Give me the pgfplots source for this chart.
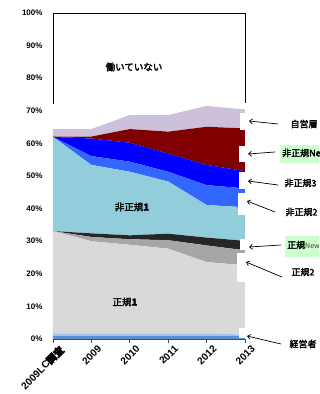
\documentclass[border=0pt]{standalone}
\usepackage{pgfplots}
\pgfplotsset{compat=1.18}
\usepackage{fontspec}
\setmainfont{Liberation Sans}
\newfontfamily\jp[FakeBold=2.5]{Noto Sans CJK JP}
\newfontfamily\jpn{Noto Sans CJK JP}
\usetikzlibrary{arrows.meta}
\definecolor{cA}{HTML}{5B8ED8}
\definecolor{cB}{HTML}{A9C0E8}
\definecolor{cSei1}{HTML}{D9D9D9}
\definecolor{cSei2}{HTML}{A6A6A6}
\definecolor{cSeiN}{HTML}{262626}
\definecolor{cHi1}{HTML}{92CDDC}
\definecolor{cHi2}{HTML}{3366FF}
\definecolor{cHi3}{HTML}{0000FF}
\definecolor{cHiN}{HTML}{800000}
\definecolor{cJi}{HTML}{CCC0DA}
\definecolor{cGreen}{HTML}{CCFFCC}
\begin{document}
\begin{tikzpicture}[x=1pt,y=1pt]
\useasboundingbox (-53,-55) rectangle (266,339);
\begin{axis}[
  scale only axis, width=192pt, height=326pt,
  at={(0,0)}, anchor=south west,
  xmin=0, xmax=5, ymin=0, ymax=100,
  stack plots=y,
  axis line style={draw=none},
  xtick={0,1,2,3,4,5},
  xticklabels={2009LC{\jp 調査},2009,2010,2011,2012,2013},
  x tick label style={rotate=45, anchor=north east, font=\bfseries\fontsize{10}{10}\selectfont, inner sep=1pt, xshift=4pt, yshift=-4pt},
  ytick={0,10,...,100},
  yticklabel={\pgfmathprintnumber{\tick}\%},
  y tick label style={font=\bfseries\fontsize{8}{8}\selectfont, xshift=-3pt},
  /pgf/number format/assume math mode=true,
  ytick style={draw=none},
  xtick style={draw=black!70, line width=0.6pt},
  tick align=outside, xtick pos=bottom, ytick pos=left,
  major tick length=4pt,
]
% 経営者 (two shades)
\addplot[fill=cA, draw=none] coordinates {(0,0.9) (1,0.9) (2,0.9) (3,0.9) (4,0.9) (5,0.9)} \closedcycle;
\addplot[fill=cB, draw=none] coordinates {(0,0.7) (1,0.7) (2,0.7) (3,0.7) (4,0.7) (5,0.5)} \closedcycle;
% 正規1
\addplot[fill=cSei1, draw=none] coordinates {(0,31.5) (1,28.4) (2,27.3) (3,26.1) (4,22.0) (5,21.2)} \closedcycle;
% 正規2
\addplot[fill=cSei2, draw=none] coordinates {(0,0) (1,1.3) (2,1.7) (3,2.6) (4,5.1) (5,4.6)} \closedcycle;
% 正規New
\addplot[fill=cSeiN, draw=none] coordinates {(0,0) (1,1.1) (2,1.2) (3,2.0) (4,2.4) (5,2.9)} \closedcycle;
% 非正規1
\addplot[fill=cHi1, draw=none] coordinates {(0,28.9) (1,21.0) (2,19.5) (3,16.0) (4,10.0) (5,10.3)} \closedcycle;
% 非正規2
\addplot[fill=cHi2, draw=none] coordinates {(0,0) (1,2.7) (2,3.1) (3,3.0) (4,6.1) (5,5.8)} \closedcycle;
% 非正規3
\addplot[fill=cHi3, draw=none] coordinates {(0,0) (1,5.4) (2,5.8) (3,5.6) (4,6.2) (5,5.3)} \closedcycle;
% 非正規New
\addplot[fill=cHiN, draw=none] coordinates {(0,0.1) (1,0.6) (2,4.2) (3,6.7) (4,11.7) (5,13.1)} \closedcycle;
% 自営層
\addplot[fill=cJi, draw=none] coordinates {(0,2.3) (1,2.3) (2,4.3) (3,5.1) (4,6.4) (5,5.8)} \closedcycle;
% 働いていない
\addplot[fill=white, draw=none] coordinates {(0,35.6) (1,35.6) (2,31.3) (3,31.3) (4,28.5) (5,29.6)} \closedcycle;
\end{axis}
% frame (visible only above the areas)
\draw[black, line width=0.8pt] (0,235) -- (0,326) -- (192,326) -- (192,236);
\draw[black!70, line width=0.6pt] (0,0) -- (192,0);
% white label backgrounds overlapping the right edge
\fill[white] (187,209) rectangle (194,226);
\fill[white] (186,177) rectangle (194,193);
\fill[white] (186,150) rectangle (194,167);
\fill[white] (185,124) rectangle (194,146);
\fill[white] (187,89) rectangle (194,100);
\fill[white] (184,57) rectangle (194,86);
\fill[white] (186,1) rectangle (194,11);
% green backgrounds
\fill[cGreen] (227,176) rectangle (266,194);
\fill[cGreen] (232,82) rectangle (266,103);
% inner labels
\node[font=\jp\fontsize{9.5}{9.5}\selectfont] at (81,272) {働いていない};
\node[font=\jp\fontsize{9.5}{9.5}\selectfont] at (79,132) {非正規\textbf{1}};
\node[font=\jp\fontsize{9.5}{9.5}\selectfont] at (72,37) {正規\textbf{1}};
% right labels
\node[font=\jp\fontsize{9}{9}\selectfont, anchor=west] at (234,215) {自営層};
\node[font=\jp\fontsize{9}{9}\selectfont, anchor=west, inner sep=1pt] at (228,186) {非正規New};
\node[font=\jp\fontsize{9}{9}\selectfont, anchor=west] at (228,156) {非正規3};
\node[font=\jp\fontsize{9}{9}\selectfont, anchor=west] at (229,127) {非正規2};
\node[font=\jp\fontsize{9}{9}\selectfont, anchor=west, inner sep=1pt] at (233,94) {正規{\jpn\fontsize{7}{7}\selectfont\color{black!75}New}};
\node[font=\jp\fontsize{9}{9}\selectfont, anchor=west] at (235,67) {正規2};
\node[font=\jp\fontsize{9}{9}\selectfont, anchor=west] at (233,-5) {経営者};
% arrows
\begin{scope}[line width=0.7pt, -{Straight Barb[length=3pt,width=5pt]}]
\draw (225,215) -- (196,218);
\draw (222,187) -- (195,185);
\draw (225,154) -- (195,158);
\draw (222,127) -- (194,138);
\draw (228,94) -- (196,92);
\draw (229,62) -- (193,77);
\draw (228,-5) -- (194,3);
\end{scope}
\end{tikzpicture}
\end{document}
